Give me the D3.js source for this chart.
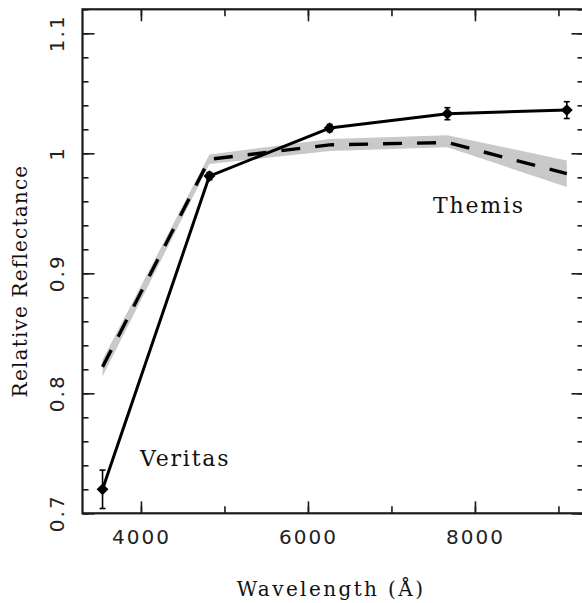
<!doctype html>
<html lang="en">
<head>
  <meta charset="utf-8">
  <title>Relative Reflectance</title>
  <script src="https://d3js.org/d3.v7.min.js"></script>
  <style>
    body { margin: 0; background: #fff; }
    .tick-label { font-family: "DejaVu Sans", sans-serif; font-size: 20px; letter-spacing: 2px; fill: #222; }
    .title { font-family: "DejaVu Serif", serif; font-size: 20px; fill: #111; }
  </style>
</head>
<body>
  <div id="chart"></div>
<script>
  // wavelengths (Angstrom), shared by both spectra
  var wavelengths = [3540, 4820, 6260, 7670, 9100];
  // Veritas family (solid line with error bars)
  var veritas = [0.720, 0.981, 1.021, 1.033, 1.036];
  var veritas_err = [0.016, 0.003, 0.003, 0.005, 0.007];
  // Themis family (dashed line with grey band)
  var themis = [0.822, 0.995, 1.007, 1.009, 0.983];
  var themis_low = [0.814, 0.991, 1.002, 1.005, 0.972];
  var themis_high = [0.828, 0.999, 1.012, 1.015, 0.994];

  var x_major = [4000, 6000, 8000];
  var x_minor = [4000, 5000, 6000, 7000, 8000, 9000];
  var y_major = [0.7, 0.8, 0.9, 1.0, 1.1];
  var y_minor = d3.range(0.7, 1.121, 0.02);

  var width = 582, height = 603;
  var m_left = 82.5, m_right = 583.5, m_top = 9.3, m_bottom = 513.3;

  var x = d3.scaleLinear().domain([3300, 9300]).range([m_left, m_right]);
  var y = d3.scaleLinear().domain([0.7, 1.12]).range([m_bottom, m_top]);

  var svg = d3.select('#chart').append('svg')
    .attr('width', width)
    .attr('height', height)
    .style('background', '#fff');

  var idx = d3.range(wavelengths.length);

  // grey band round the Themis spectrum
  svg.append('path')
    .datum(idx)
    .attr('fill', '#c9c9c9')
    .attr('d', d3.area()
      .x(i => x(wavelengths[i]))
      .y0(i => y(themis_low[i]))
      .y1(i => y(themis_high[i])));

  // Themis dashed line
  svg.append('path')
    .datum(idx)
    .attr('fill', 'none')
    .attr('stroke', '#000')
    .attr('stroke-width', 3.4)
    .attr('stroke-dasharray', '19,15')
    .attr('d', d3.line()
      .x(i => x(wavelengths[i]))
      .y(i => y(themis[i])));

  // Veritas solid line
  svg.append('path')
    .datum(idx)
    .attr('fill', 'none')
    .attr('stroke', '#000')
    .attr('stroke-width', 3)
    .attr('stroke-linejoin', 'round')
    .attr('d', d3.line()
      .x(i => x(wavelengths[i]))
      .y(i => y(veritas[i])));

  // error bars
  var err = svg.append('g').attr('stroke', '#000').attr('stroke-width', 1.6);
  idx.forEach(function(i) {
    var cx = x(wavelengths[i]);
    var y0 = y(veritas[i] - veritas_err[i]), y1 = y(veritas[i] + veritas_err[i]);
    err.append('line').attr('x1', cx).attr('x2', cx).attr('y1', y0).attr('y2', y1);
    err.append('line').attr('x1', cx - 3).attr('x2', cx + 3).attr('y1', y0).attr('y2', y0);
    err.append('line').attr('x1', cx - 3).attr('x2', cx + 3).attr('y1', y1).attr('y2', y1);
  });

  // diamond markers
  svg.append('g').selectAll('path')
    .data(idx)
    .enter()
      .append('path')
      .attr('d', d3.symbol(d3.symbolSquare, 70))
      .attr('fill', '#000')
      .attr('transform', i => 'translate(' + x(wavelengths[i]) + ',' + y(veritas[i]) + ') rotate(45)');

  // frame and inward ticks on all four sides
  function ticks(g) {
    g.select('.domain').remove();
    g.selectAll('line').attr('stroke', '#1a1a1a').attr('stroke-width', 1.6);
  }
  svg.append('g').attr('transform', 'translate(0,' + m_bottom + ')')
    .call(d3.axisBottom(x).tickValues(x_minor).tickSize(-7).tickFormat('')).call(ticks);
  svg.append('g').attr('transform', 'translate(0,' + m_bottom + ')')
    .call(d3.axisBottom(x).tickValues(x_major).tickSize(-12).tickPadding(17).tickFormat(d3.format('d')))
    .call(ticks)
    .selectAll('text').attr('class', 'tick-label').attr('font-size', null).attr('font-family', null);
  svg.append('g').attr('transform', 'translate(0,' + m_top + ')')
    .call(d3.axisTop(x).tickValues(x_minor).tickSize(-7).tickFormat('')).call(ticks);
  svg.append('g').attr('transform', 'translate(0,' + m_top + ')')
    .call(d3.axisTop(x).tickValues(x_major).tickSize(-12).tickFormat('')).call(ticks);
  svg.append('g').attr('transform', 'translate(' + m_left + ',0)')
    .call(d3.axisLeft(y).tickValues(y_minor).tickSize(-6).tickFormat('')).call(ticks);
  svg.append('g').attr('transform', 'translate(' + m_left + ',0)')
    .call(d3.axisLeft(y).tickValues(y_major).tickSize(-12).tickFormat('')).call(ticks);
  svg.append('g').attr('transform', 'translate(' + m_right + ',0)')
    .call(d3.axisRight(y).tickValues(y_minor).tickSize(-6).tickFormat('')).call(ticks);
  svg.append('g').attr('transform', 'translate(' + m_right + ',0)')
    .call(d3.axisRight(y).tickValues(y_major).tickSize(-12).tickFormat('')).call(ticks);

  svg.append('rect')
    .attr('x', m_left).attr('y', m_top)
    .attr('width', m_right - m_left).attr('height', m_bottom - m_top)
    .attr('fill', 'none').attr('stroke', '#1a1a1a').attr('stroke-width', 2.2);

  // y tick labels, rotated
  svg.append('g').selectAll('text')
    .data(y_major)
    .enter()
      .append('text')
      .attr('class', 'tick-label')
      .attr('text-anchor', 'middle')
      .attr('transform', d => 'translate(64,' + y(d) + ') rotate(-90)')
      .text(d => d3.format('~g')(d));

  // axis titles
  svg.append('text')
    .attr('class', 'title')
    .attr('text-anchor', 'middle')
    .attr('x', 331).attr('y', 596)
    .style('letter-spacing', '2.4px')
    .text('Wavelength (Å)');
  svg.append('text')
    .attr('class', 'title')
    .attr('text-anchor', 'middle')
    .attr('transform', 'translate(27,281) rotate(-90)')
    .style('letter-spacing', '1.2px')
    .text('Relative Reflectance');

  // family labels
  svg.append('text')
    .attr('class', 'title')
    .style('font-size', '22px').style('letter-spacing', '1.8px')
    .attr('x', 140).attr('y', 466)
    .text('Veritas');
  svg.append('text')
    .attr('class', 'title')
    .style('font-size', '22px').style('letter-spacing', '1.8px')
    .attr('x', 433).attr('y', 213)
    .text('Themis');
</script>
</body>
</html>
